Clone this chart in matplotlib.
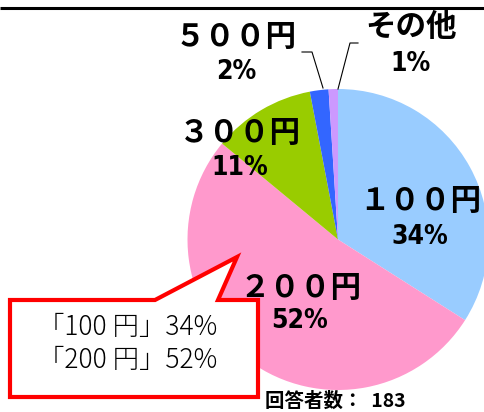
import matplotlib
matplotlib.use('Agg')
import matplotlib.pyplot as plt
from matplotlib.patches import Polygon

# answers: price ranges and share (%)
labels = ['１００円', '２００円', '３００円', '５００円', 'その他']
shares = [34, 52, 11, 2, 1]
colors = ['#99CCFF', '#FF99CC', '#99CC00', '#3366FF', '#CC99FF']
pct_labels = ['%d%%' % s for s in shares]
n_answers = 183
callout_lines = ['「100 円」34%', '「200 円」52%']

W, H = 485, 412
jp_bold = ['Noto Sans CJK JP']

def Y(y):
    # pixel row from the top -> data y
    return H - y

fig = plt.figure(figsize=(W / 100, H / 100), dpi=100)
ax = fig.add_axes([0, 0, 1, 1])

ax.pie(shares, colors=colors, startangle=90, counterclock=False,
       center=(338, Y(239.5)), radius=150.5,
       wedgeprops=dict(linewidth=0))
ax.set_xlim(0, W)
ax.set_ylim(0, H)
ax.set_aspect('equal')
ax.axis('off')

# top rule
ax.plot([0, W], [Y(8), Y(8)], color='black', lw=2.2, solid_capstyle='butt')

# category labels (name + percent)
name_pos = [(420, 201), (300, 288), (240, 133), (236, 37), (411, 27)]
pct_pos = [(420, 237), (300, 321), (240, 168), (236, 72), (411, 64)]
for i in range(len(labels)):
    ax.text(name_pos[i][0], Y(name_pos[i][1]), labels[i], family=jp_bold,
            fontweight='bold', fontsize=22, ha='center', va='center')
    ax.text(pct_pos[i][0], Y(pct_pos[i][1]), pct_labels[i], family=['DejaVu Sans'],
            fontstretch='condensed', fontweight='bold', fontsize=19,
            ha='center', va='center')

# leader lines for the small slices
ax.plot([302, 312, 323], [Y(52), Y(52), Y(88)], color='black', lw=0.8)
ax.plot([358, 350, 338], [Y(43), Y(43), Y(89)], color='black', lw=0.8)

# callout box
box = [(10, 300), (155, 300), (237, 257), (218, 300), (258, 300),
       (258, 397), (10, 397)]
ax.add_patch(Polygon([(x, Y(y)) for x, y in box], closed=True,
                     facecolor='white', edgecolor='#FF0000', lw=3,
                     joinstyle='miter'))
ax.text(128, Y(327), callout_lines[0], family=['Noto Sans CJK JP'],
        fontweight='light', fontsize=19, ha='center', va='center')
ax.text(128, Y(360), callout_lines[1], family=['Noto Sans CJK JP'],
        fontweight='light', fontsize=19, ha='center', va='center')

ax.text(335, Y(401), '回答者数：  %d' % n_answers, family=jp_bold,
        fontweight='bold', fontsize=14, ha='center', va='center')

fig.savefig('out.png', dpi=100)
